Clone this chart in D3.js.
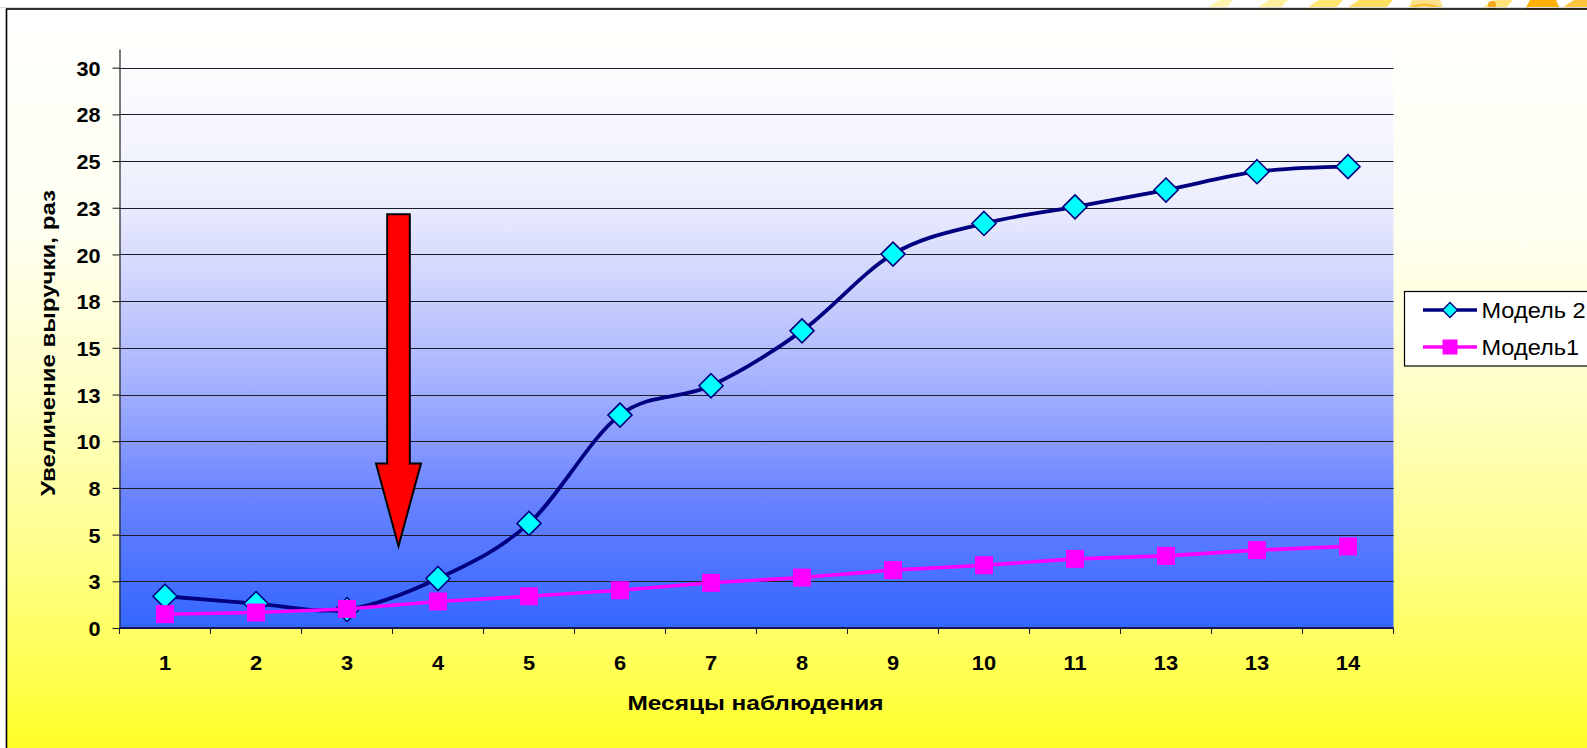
<!DOCTYPE html>
<html>
<head>
<meta charset="utf-8">
<script src="https://cdn.jsdelivr.net/npm/d3@7"></script>
<style>
  html, body { margin: 0; padding: 0; background: #ffffff; overflow: hidden; }
  svg { display: block; font-family: Arial, "Liberation Sans", sans-serif; }
</style>
</head>
<body>
<svg id="chart" width="1587" height="748"></svg>
<script>
// Observation months (the label list repeats "13")
const categories = ["1", "2", "3", "4", "5", "6", "7", "8", "9", "10", "11", "13", "13", "14"];

// Revenue growth, times
const model2 = [1.70, 1.31, 0.99, 2.65, 5.60, 11.40, 12.97, 15.91, 20.02, 21.66, 22.55, 23.45, 24.43, 24.70];
const model1 = [0.74, 0.83, 1.02, 1.42, 1.70, 2.02, 2.42, 2.70, 3.10, 3.36, 3.70, 3.86, 4.17, 4.37];

const seriesNames = ["Модель 2", "Модель1"];

// Value axis: major unit 2.5, labels rounded to whole numbers
const yTickValues = [0, 2.5, 5, 7.5, 10, 12.5, 15, 17.5, 20, 22.5, 25, 27.5, 30];
const yTickLabels = ["0", "3", "5", "8", "10", "13", "15", "18", "20", "23", "25", "28", "30"];
const yMax = 31;

const xTitle = "Месяцы наблюдения";
const yTitle = "Увеличение выручки, раз";

const W = 1587, H = 748;
const plot = { left: 119.5, right: 1393.5, top: 49, bottom: 628 };

const svg = d3.select("#chart");
const defs = svg.append("defs");

// Widen a text run horizontally by a factor, keeping its anchor
function widen(sel, factor) {
  sel.each(function () {
    const n = this.getComputedTextLength();
    d3.select(this).attr("textLength", n * factor).attr("lengthAdjust", "spacingAndGlyphs");
  });
}

// Chart-area fill: near white at the top to bright yellow at the bottom
const bgGrad = defs.append("linearGradient")
  .attr("id", "bgGrad").attr("x1", 0).attr("y1", 0).attr("x2", 0).attr("y2", 1);
[[0, "#fffffe"], [0.3, "#fffff0"], [0.5, "#ffffc8"], [0.7, "#ffff90"], [0.88, "#ffff50"], [1, "#ffff1c"]]
  .forEach(([o, c]) => bgGrad.append("stop").attr("offset", o).attr("stop-color", c));

// Plot-area fill: white at the top to blue at the bottom
const plotGrad = defs.append("linearGradient")
  .attr("id", "plotGrad").attr("x1", 0).attr("y1", 0).attr("x2", 0).attr("y2", 1);
[[0, "#ffffff"], [0.26, "#eceefd"], [0.43, "#c9cffd"], [0.61, "#9dabff"], [0.78, "#6882ff"], [1, "#3366ff"]]
  .forEach(([o, c]) => plotGrad.append("stop").attr("offset", o).attr("stop-color", c));

// Page background and the sun decoration peeking in along the top edge
svg.append("rect").attr("width", W).attr("height", H).attr("fill", "#ffffff");
const sun = svg.append("g");
const rays = [
  [1205, 1225, "#fff3b0"], [1255, 1280, "#fff0a0"], [1305, 1335, "#ffe770"],
  [1345, 1385, "#ffe060"], [1480, 1505, "#ffe27a"], [1560, 1587, "#ffc640"]
];
rays.forEach(([a, b, c]) => {
  sun.append("path")
    .attr("d", `M${a},9 L${b},9 L${b + 8},0 L${a + 14},0 Z`)
    .attr("fill", c);
});
sun.append("path").attr("d", "M1408,9 C1412,2 1436,2 1442,9 L1436,9 C1430,5 1418,5 1414,9 Z").attr("fill", "#f7ac10");
sun.append("path").attr("d", "M1408,9 L1412,0 L1440,0 L1444,9 Z").attr("fill", "#ffd040").attr("opacity", 0.6);
sun.append("circle").attr("cx", 1492).attr("cy", 5).attr("r", 4).attr("fill", "#f5a818");
sun.append("path").attr("d", "M1525,9 L1560,9 L1556,0 L1530,0 Z").attr("fill", "#ffb000");
svg.append("line").attr("x1", 0).attr("x2", W).attr("y1", 7.5).attr("y2", 7.5)
  .attr("stroke", "#d8d8d8").attr("stroke-width", 1);

// Chart area
svg.append("rect")
  .attr("x", 6.5).attr("y", 9).attr("width", W + 10).attr("height", H + 10)
  .attr("fill", "url(#bgGrad)").attr("stroke", "#000").attr("stroke-width", 1.6);

// Scales
const x = d3.scaleBand().domain(d3.range(categories.length)).range([plot.left, plot.right]).padding(0);
const y = d3.scaleLinear().domain([0, yMax]).range([plot.bottom, plot.top]);
const cx = i => x(i) + x.bandwidth() / 2;

// Plot area
svg.append("rect")
  .attr("x", plot.left).attr("y", y(yMax))
  .attr("width", plot.right - plot.left).attr("height", y(0) - y(yMax))
  .attr("fill", "url(#plotGrad)");

// Horizontal gridlines
svg.append("g").selectAll("line").data(yTickValues.filter(v => v > 0)).join("line")
  .attr("x1", plot.left).attr("x2", plot.right)
  .attr("y1", d => Math.round(y(d)) + 0.5).attr("y2", d => Math.round(y(d)) + 0.5)
  .attr("stroke", "#1c1c28").attr("stroke-width", 1.1);

// Value axis
const yAxis = d3.axisLeft(y)
  .tickValues(yTickValues)
  .tickFormat((d, i) => yTickLabels[i])
  .tickSize(7).tickSizeOuter(0).tickPadding(12);
const gy = svg.append("g").attr("transform", `translate(${plot.left},0)`).call(yAxis);
gy.select(".domain").attr("stroke", "#222").attr("stroke-width", 1.2);
gy.selectAll(".tick line").attr("stroke", "#222").attr("stroke-width", 1.1);
gy.selectAll(".tick text")
  .attr("fill", "#000").attr("font-size", 21).attr("font-weight", "bold")
  .attr("font-family", "Arial, 'Liberation Sans', sans-serif")
  .attr("dy", "0.36em")
  .call(widen, 1.03);

// Category axis
const xAxis = d3.axisBottom(x)
  .tickFormat(i => categories[i])
  .tickSize(0).tickPadding(0);
const gx = svg.append("g").attr("transform", `translate(0,${plot.bottom})`).call(xAxis);
gx.select(".domain").remove();
gx.selectAll(".tick text")
  .attr("fill", "#000").attr("font-size", 21).attr("font-weight", "bold")
  .attr("font-family", "Arial, 'Liberation Sans', sans-serif")
  .attr("y", 41.5).attr("dy", 0)
  .call(widen, 1.04);
// Tick marks sit on the category boundaries
svg.append("g").selectAll("line").data(d3.range(categories.length + 1)).join("line")
  .attr("x1", i => (i < categories.length ? x(i) : plot.right))
  .attr("x2", i => (i < categories.length ? x(i) : plot.right))
  .attr("y1", plot.bottom).attr("y2", plot.bottom + 6)
  .attr("stroke", "#222").attr("stroke-width", 1.1);
svg.append("line")
  .attr("x1", plot.left).attr("x2", plot.right)
  .attr("y1", plot.bottom).attr("y2", plot.bottom)
  .attr("stroke", "#14145a").attr("stroke-width", 1.8);

// Axis titles
svg.append("text")
  .attr("x", 755.5).attr("y", 710)
  .attr("text-anchor", "middle").attr("font-size", 21).attr("font-weight", "bold")
  .attr("fill", "#000").text(xTitle)
  .attr("textLength", 256).attr("lengthAdjust", "spacingAndGlyphs");
svg.append("text")
  .attr("transform", `translate(55,343) rotate(-90)`)
  .attr("text-anchor", "middle").attr("font-size", 21).attr("font-weight", "bold")
  .attr("fill", "#000").text(yTitle)
  .attr("textLength", 306).attr("lengthAdjust", "spacingAndGlyphs");

// Arrow pointing at the transition between months 3 and 4
const arrowX = x(3) + 6;
const arrowTop = y(22.15), arrowNeck = y(8.81), arrowTip = y(4.38);
const shaftHalf = 11.3, headHalf = 22.5;
svg.append("path")
  .attr("d", [
    "M", arrowX - shaftHalf, arrowTop,
    "L", arrowX + shaftHalf, arrowTop,
    "L", arrowX + shaftHalf, arrowNeck,
    "L", arrowX + headHalf, arrowNeck,
    "L", arrowX, arrowTip,
    "L", arrowX - headHalf, arrowNeck,
    "L", arrowX - shaftHalf, arrowNeck, "Z"
  ].join(" "))
  .attr("fill", "#ff0000").attr("stroke", "#000").attr("stroke-width", 2)
  .attr("stroke-linejoin", "miter");

// Series lines
const smooth = d3.line().x((d, i) => cx(i)).y(d => y(d)).curve(d3.curveCardinal.tension(0));
const straight = d3.line().x((d, i) => cx(i)).y(d => y(d));

const diamond = (px, py, r) => `M${px},${py - r} L${px + r},${py} L${px},${py + r} L${px - r},${py} Z`;

// Модель 2: smoothed navy line with cyan diamonds
svg.append("path").datum(model2).attr("d", smooth)
  .attr("fill", "none").attr("stroke", "#000080").attr("stroke-width", 3.8)
  .attr("stroke-linejoin", "round");
svg.append("g").selectAll("path").data(model2).join("path")
  .attr("d", (d, i) => diamond(cx(i), y(d), 12))
  .attr("fill", "#00ffff").attr("stroke", "#000080").attr("stroke-width", 1.6);

// Модель1: magenta line with squares
svg.append("path").datum(model1).attr("d", straight)
  .attr("fill", "none").attr("stroke", "#ff00ff").attr("stroke-width", 3.6);
svg.append("g").selectAll("rect").data(model1).join("rect")
  .attr("x", (d, i) => cx(i) - 9).attr("y", d => y(d) - 9)
  .attr("width", 18).attr("height", 18)
  .attr("fill", "#ff00ff");

// Legend
const lg = svg.append("g");
lg.append("rect")
  .attr("x", 1404.5).attr("y", 291.5).attr("width", 200).attr("height", 74.5)
  .attr("fill", "#ffffff").attr("stroke", "#000").attr("stroke-width", 1.2);
const legendRows = [
  { name: seriesNames[0], color: "#000080", marker: "diamond", cy: 310 },
  { name: seriesNames[1], color: "#ff00ff", marker: "square", cy: 347 }
];
legendRows.forEach(r => {
  lg.append("line").attr("x1", 1423).attr("x2", 1477).attr("y1", r.cy).attr("y2", r.cy)
    .attr("stroke", r.color).attr("stroke-width", 3.6);
  if (r.marker === "diamond") {
    lg.append("path").attr("d", diamond(1450, r.cy, 7.5))
      .attr("fill", "#00ffff").attr("stroke", "#000080").attr("stroke-width", 1.4);
  } else {
    lg.append("rect").attr("x", 1450 - 7.5).attr("y", r.cy - 7.5)
      .attr("width", 15).attr("height", 15).attr("fill", "#ff00ff");
  }
  lg.append("text").attr("x", 1481.5).attr("y", r.cy).attr("dy", "0.36em")
    .attr("font-size", 22).attr("fill", "#000").text(r.name)
    .call(widen, 1.07);
});
</script>
</body>
</html>
